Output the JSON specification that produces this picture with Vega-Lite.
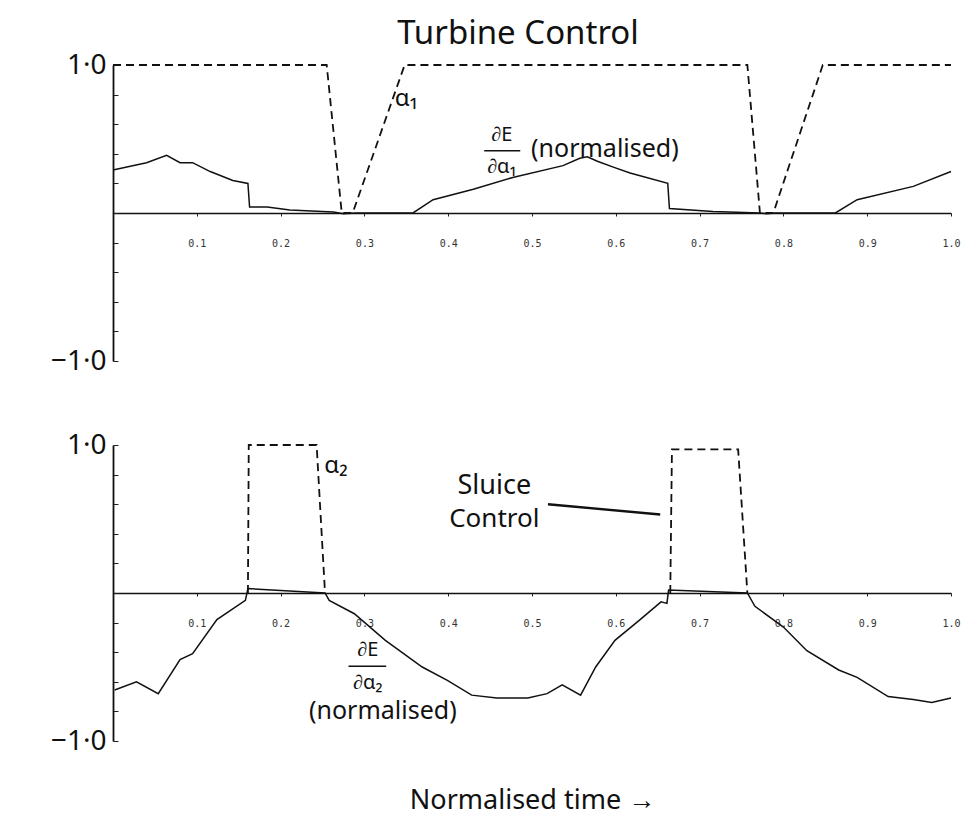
{
  "$schema": "https://vega.github.io/schema/vega-lite/v6.json",
  "background": "white",
  "padding": {"left": 50, "top": 18, "right": 10, "bottom": 10},
  "config": {"font": "Noto Sans", "view": {"stroke": null}},
  "datasets": {
    "a1": [
      {"t": 0, "v": 1}, {"t": 0.255, "v": 1}, {"t": 0.273, "v": 0}, {"t": 0.286, "v": 0}, {"t": 0.348, "v": 1},
      {"t": 0.757, "v": 1}, {"t": 0.772, "v": 0}, {"t": 0.788, "v": 0}, {"t": 0.847, "v": 1}, {"t": 1, "v": 1}
    ],
    "e1": [
      {"t": 0, "v": 0.29}, {"t": 0.04, "v": 0.34}, {"t": 0.064, "v": 0.39}, {"t": 0.08, "v": 0.34}, {"t": 0.095, "v": 0.34},
      {"t": 0.116, "v": 0.28}, {"t": 0.143, "v": 0.22}, {"t": 0.161, "v": 0.2}, {"t": 0.163, "v": 0.04}, {"t": 0.184, "v": 0.04},
      {"t": 0.211, "v": 0.02}, {"t": 0.263, "v": 0.007}, {"t": 0.275, "v": -0.005}, {"t": 0.29, "v": 0}, {"t": 0.358, "v": 0},
      {"t": 0.382, "v": 0.09}, {"t": 0.43, "v": 0.16}, {"t": 0.477, "v": 0.24}, {"t": 0.537, "v": 0.32}, {"t": 0.557, "v": 0.37},
      {"t": 0.566, "v": 0.38}, {"t": 0.578, "v": 0.35}, {"t": 0.597, "v": 0.31}, {"t": 0.617, "v": 0.27}, {"t": 0.662, "v": 0.2},
      {"t": 0.664, "v": 0.03}, {"t": 0.716, "v": 0.01}, {"t": 0.772, "v": 0}, {"t": 0.78, "v": -0.005}, {"t": 0.79, "v": 0},
      {"t": 0.862, "v": 0}, {"t": 0.888, "v": 0.09}, {"t": 0.955, "v": 0.18}, {"t": 1.0, "v": 0.28}
    ],
    "a2": [
      {"seg": 1, "t": 0.161, "v": 0}, {"seg": 1, "t": 0.162, "v": 1}, {"seg": 1, "t": 0.243, "v": 1}, {"seg": 1, "t": 0.253, "v": 0},
      {"seg": 2, "t": 0.665, "v": 0}, {"seg": 2, "t": 0.667, "v": 0.97}, {"seg": 2, "t": 0.746, "v": 0.97}, {"seg": 2, "t": 0.757, "v": 0}
    ],
    "e2": [
      {"t": 0.002, "v": -0.655}, {"t": 0.028, "v": -0.6}, {"t": 0.054, "v": -0.68}, {"t": 0.08, "v": -0.45}, {"t": 0.095, "v": -0.41},
      {"t": 0.124, "v": -0.18}, {"t": 0.158, "v": -0.05}, {"t": 0.161, "v": 0.03}, {"t": 0.253, "v": 0},
      {"t": 0.258, "v": -0.05}, {"t": 0.288, "v": -0.14}, {"t": 0.325, "v": -0.32}, {"t": 0.369, "v": -0.5}, {"t": 0.399, "v": -0.59},
      {"t": 0.428, "v": -0.69}, {"t": 0.458, "v": -0.71}, {"t": 0.495, "v": -0.71}, {"t": 0.518, "v": -0.68}, {"t": 0.536, "v": -0.62},
      {"t": 0.558, "v": -0.69}, {"t": 0.576, "v": -0.5}, {"t": 0.599, "v": -0.32}, {"t": 0.629, "v": -0.18}, {"t": 0.654, "v": -0.06},
      {"t": 0.661, "v": -0.07}, {"t": 0.663, "v": 0.02}, {"t": 0.757, "v": 0},
      {"t": 0.766, "v": -0.09}, {"t": 0.8, "v": -0.23}, {"t": 0.828, "v": -0.39}, {"t": 0.866, "v": -0.52}, {"t": 0.888, "v": -0.57},
      {"t": 0.925, "v": -0.7}, {"t": 0.955, "v": -0.72}, {"t": 0.977, "v": -0.74}, {"t": 1.0, "v": -0.71}
    ],
    "lab1": [
      {"t": 0.35, "v": 0.77, "text": "α₁", "size": 24},
      {"t": 0.464, "v": 0.53, "text": "∂E", "size": 20},
      {"t": 0.464, "v": 0.31, "text": "∂α₁", "size": 20},
      {"t": 0.587, "v": 0.43, "text": "(normalised)", "size": 25}
    ],
    "bar1": [{"t": 0.443, "t2": 0.486, "v": 0.42}],
    "lab2": [
      {"t": 0.266, "v": 0.86, "text": "α₂", "size": 24},
      {"t": 0.455, "v": 0.72, "text": "Sluice", "size": 27},
      {"t": 0.455, "v": 0.5, "text": "Control", "size": 26},
      {"t": 0.304, "v": -0.385, "text": "∂E", "size": 20},
      {"t": 0.304, "v": -0.605, "text": "∂α₂", "size": 20},
      {"t": 0.322, "v": -0.8, "text": "(normalised)", "size": 25}
    ],
    "bar2": [{"t": 0.281, "t2": 0.326, "v": -0.495}],
    "ptr": [{"t": 0.519, "t2": 0.653, "v": 0.6, "v2": 0.53}]
  },
  "vconcat": [
    {
      "width": 838,
      "height": 296,
      "title": {"text": "Turbine Control", "fontSize": 33, "fontWeight": "normal", "anchor": "middle", "frame": "group", "offset": 0, "dx": -14, "color": "#111"},
      "encoding": {
        "x": {"field": "t", "type": "quantitative", "scale": {"domain": [0, 1], "nice": false},
          "axis": {"title": null, "offset": -148, "values": [0.1, 0.2, 0.3, 0.4, 0.5, 0.6, 0.7, 0.8, 0.9, 1.0], "format": ".1f",
            "labelFont": "DejaVu Sans Mono", "labelFontSize": 10, "labelColor": "#333", "labelPadding": 22, "tickSize": 3, "tickColor": "#222",
            "domainColor": "#111", "domainWidth": 1.4, "grid": false, "labelFlush": false}},
        "y": {"field": "v", "type": "quantitative", "scale": {"domain": [-1, 1], "nice": false},
          "axis": {"title": null, "values": [-1, -0.8, -0.6, -0.4, -0.2, 0, 0.2, 0.4, 0.6, 0.8, 1], "tickSize": -5, "tickColor": "#222",
            "labelExpr": "datum.value == 1 ? '1·0' : (datum.value == -1 ? '−1·0' : '')", "labelFontSize": 28, "labelColor": "#111",
            "labelPadding": 12, "domainColor": "#111", "domainWidth": 1.8, "grid": false}}
      },
      "layer": [
        {"data": {"name": "e1"}, "mark": {"type": "line", "color": "#111", "strokeWidth": 1.5}},
        {"data": {"name": "a1"}, "mark": {"type": "line", "color": "#111", "strokeWidth": 1.8, "strokeDash": [8, 5]}},
        {"data": {"name": "bar1"}, "mark": {"type": "rule", "color": "#111", "strokeWidth": 1.5}, "encoding": {"x2": {"field": "t2"}}},
        {"data": {"name": "lab1"}, "mark": {"type": "text", "color": "#111", "align": "center", "baseline": "middle"},
          "encoding": {"text": {"field": "text"}, "size": {"field": "size", "type": "quantitative", "scale": null}}}
      ]
    },
    {
      "width": 838,
      "height": 296,
      "encoding": {
        "x": {"field": "t", "type": "quantitative", "scale": {"domain": [0, 1], "nice": false},
          "axis": {"title": "Normalised time →", "titleY": 207, "titleBaseline": "middle", "titleFontSize": 27, "titleFontWeight": "normal", "titleColor": "#111",
            "offset": -148, "values": [0.1, 0.2, 0.3, 0.4, 0.5, 0.6, 0.7, 0.8, 0.9, 1.0], "format": ".1f",
            "labelFont": "DejaVu Sans Mono", "labelFontSize": 10, "labelColor": "#333", "labelPadding": 22, "tickSize": 3, "tickColor": "#222",
            "domainColor": "#111", "domainWidth": 1.4, "grid": false, "labelFlush": false}},
        "y": {"field": "v", "type": "quantitative", "scale": {"domain": [-1, 1], "nice": false},
          "axis": {"title": null, "values": [-1, -0.8, -0.6, -0.4, -0.2, 0, 0.2, 0.4, 0.6, 0.8, 1], "tickSize": -5, "tickColor": "#222",
            "labelExpr": "datum.value == 1 ? '1·0' : (datum.value == -1 ? '−1·0' : '')", "labelFontSize": 28, "labelColor": "#111",
            "labelPadding": 12, "domainColor": "#111", "domainWidth": 1.8, "grid": false}}
      },
      "layer": [
        {"data": {"name": "e2"}, "mark": {"type": "line", "color": "#111", "strokeWidth": 1.5}},
        {"data": {"name": "a2"}, "mark": {"type": "line", "color": "#111", "strokeWidth": 1.8, "strokeDash": [8, 5]}, "encoding": {"detail": {"field": "seg", "type": "nominal"}}},
        {"data": {"name": "bar2"}, "mark": {"type": "rule", "color": "#111", "strokeWidth": 1.5}, "encoding": {"x2": {"field": "t2"}}},
        {"data": {"name": "ptr"}, "mark": {"type": "rule", "color": "#111", "strokeWidth": 2.4}, "encoding": {"x2": {"field": "t2"}, "y2": {"field": "v2"}}},
        {"data": {"name": "lab2"}, "mark": {"type": "text", "color": "#111", "align": "center", "baseline": "middle"},
          "encoding": {"text": {"field": "text"}, "size": {"field": "size", "type": "quantitative", "scale": null}}}
      ]
    }
  ],
  "spacing": 56
}
